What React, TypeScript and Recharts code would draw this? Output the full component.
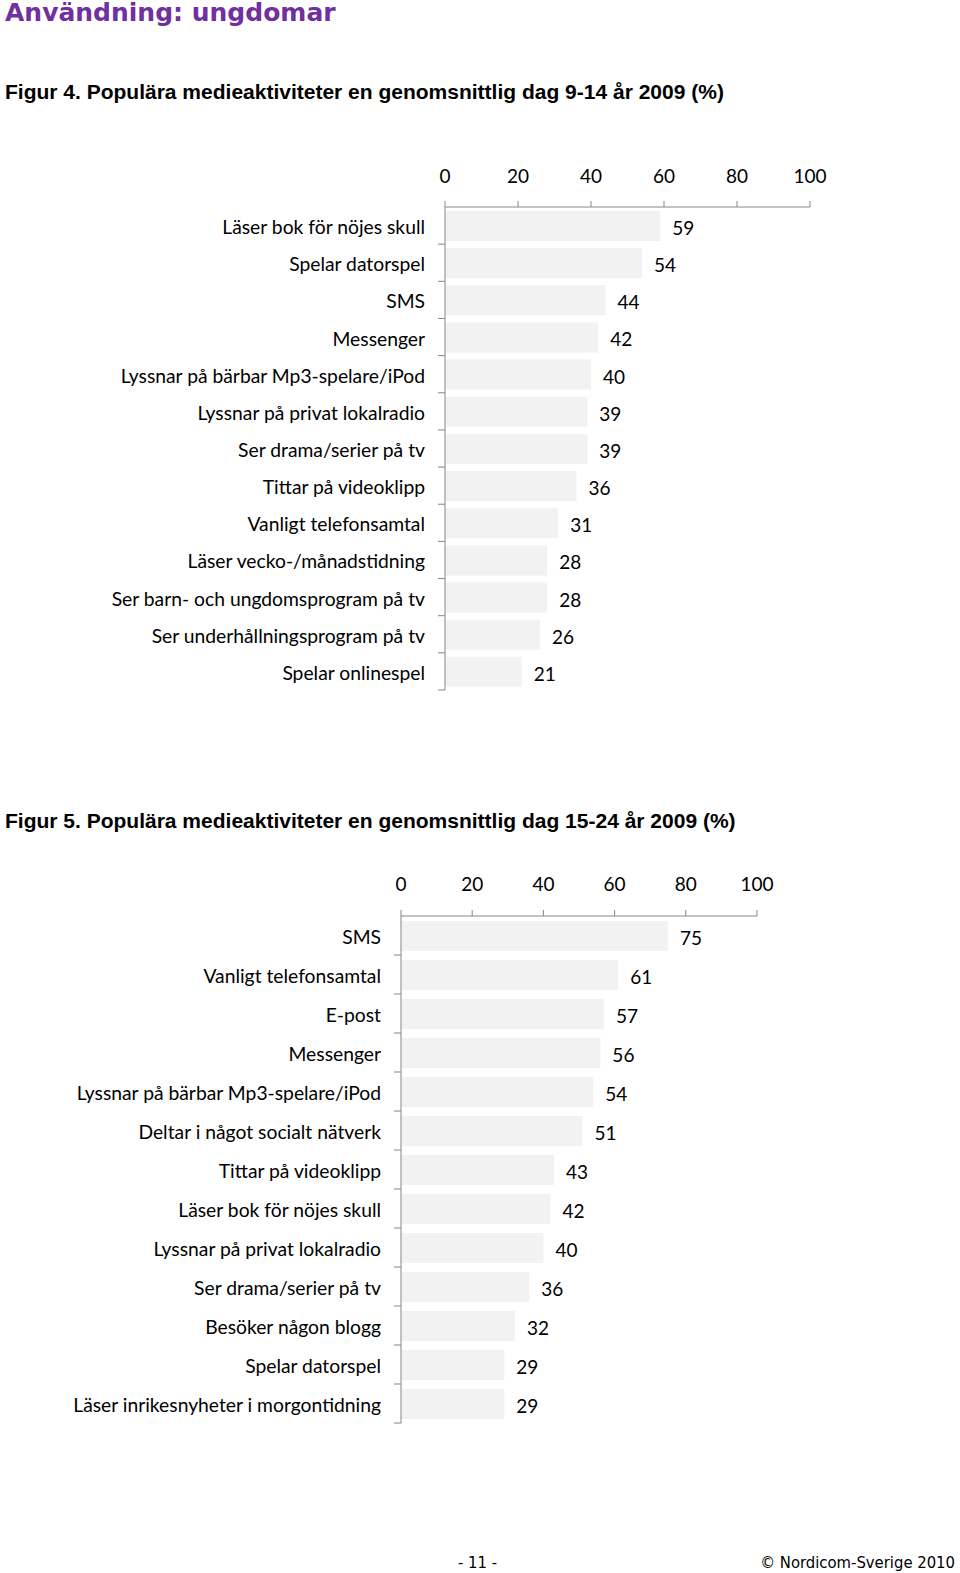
import React from "react";
import { BarChart, Bar, XAxis, YAxis, LabelList } from "recharts";

const fig4Categories = [
  "Läser bok för nöjes skull",
  "Spelar datorspel",
  "SMS",
  "Messenger",
  "Lyssnar på bärbar Mp3-spelare/iPod",
  "Lyssnar på privat lokalradio",
  "Ser drama/serier på tv",
  "Tittar på videoklipp",
  "Vanligt telefonsamtal",
  "Läser vecko-/månadstidning",
  "Ser barn- och ungdomsprogram på tv",
  "Ser underhållningsprogram på tv",
  "Spelar onlinespel",
];
const fig4Values = [59, 54, 44, 42, 40, 39, 39, 36, 31, 28, 28, 26, 21];

const fig5Categories = [
  "SMS",
  "Vanligt telefonsamtal",
  "E-post",
  "Messenger",
  "Lyssnar på bärbar Mp3-spelare/iPod",
  "Deltar i något socialt nätverk",
  "Tittar på videoklipp",
  "Läser bok för nöjes skull",
  "Lyssnar på privat lokalradio",
  "Ser drama/serier på tv",
  "Besöker någon blogg",
  "Spelar datorspel",
  "Läser inrikesnyheter i morgontidning",
];
const fig5Values = [75, 61, 57, 56, 54, 51, 43, 42, 40, 36, 32, 29, 29];

const xTicks = [0, 20, 40, 60, 80, 100];

const data4 = fig4Categories.map((name, i) => ({ name, value: fig4Values[i] }));
const data5 = fig5Categories.map((name, i) => ({ name, value: fig5Values[i] }));

const FONT = "Lato, 'Open Sans', sans-serif";
const AXIS = "#868686";

function makeYTick(band: number) {
  return (props: any) => {
    const { x, y, payload } = props;
    return (
      <g>
        <text
          x={x - 20}
          y={y + 8.5}
          textAnchor="end"
          fontFamily={FONT}
          fontSize={19.3}
          fill="#000"
        >
          {payload.value}
        </text>
        <line x1={x - 7} x2={x} y1={y + band / 2} y2={y + band / 2} stroke={AXIS} strokeWidth={1} />
      </g>
    );
  };
}

const valueLabel = (props: any) => {
  const { x, y, width, height, value } = props;
  return (
    <text
      x={x + width + 12}
      y={y + height / 2 + 9}
      textAnchor="start"
      fontFamily={FONT}
      fontSize={19}
      fill="#000"
    >
      {value}
    </text>
  );
};

type ChartProps = {
  data: any[];
  width: number;
  height: number;
  margin: any;
  yWidth: number;
  tickMargin: number;
  band: number;
};

function Chart({ data, width, height, margin, yWidth, tickMargin, band }: ChartProps) {
  return (
    <BarChart width={width} height={height} data={data} layout="vertical" margin={margin} barSize={30}>
      <XAxis
        type="number"
        orientation="top"
        domain={[0, 100]}
        ticks={xTicks}
        height={30}
        interval={0}
        axisLine={{ stroke: AXIS }}
        tickLine={{ stroke: AXIS }}
        tickSize={6}
        tickMargin={tickMargin}
        tick={{ fontSize: 19, fill: "#000", fontFamily: FONT }}
      />
      <YAxis
        type="category"
        dataKey="name"
        width={yWidth}
        interval={0}
        axisLine={{ stroke: AXIS }}
        tickLine={false}
        tickSize={0}
        tickMargin={0}
        tick={makeYTick(band)}
      />
      <Bar dataKey="value" fill="#f2f2f2" isAnimationActive={false}>
        <LabelList dataKey="value" content={valueLabel} />
      </Bar>
    </BarChart>
  );
}

const figTitle: React.CSSProperties = {
  position: "absolute",
  left: 5,
  fontFamily: "'Liberation Sans', Arial, sans-serif",
  fontWeight: "bold",
  fontSize: 21,
  color: "#000",
  whiteSpace: "nowrap",
};

const footer: React.CSSProperties = {
  position: "absolute",
  top: 1553,
  fontFamily: "'DejaVu Sans Condensed', 'DejaVu Sans', sans-serif",
  fontSize: 16.5,
  color: "#000",
  whiteSpace: "nowrap",
};

export default function App() {
  return (
    <div
      style={{
        position: "absolute",
        left: 0,
        top: 0,
        width: 960,
        height: 1573,
        background: "#fff",
        overflow: "hidden",
      }}
    >
      <div
        style={{
          position: "absolute",
          left: 5,
          top: 0,
          fontFamily: "'DejaVu Sans', Verdana, sans-serif",
          fontWeight: "bold",
          fontSize: 25,
          lineHeight: "25px",
          color: "#7030a0",
          whiteSpace: "nowrap",
        }}
      >
        Användning: ungdomar
      </div>
      <div style={{ ...figTitle, top: 80 }}>
        Figur 4. Populära medieaktiviteter en genomsnittlig dag 9-14 år 2009 (%)
      </div>
      <div style={{ position: "absolute", left: 0, top: 150 }}>
        <Chart
          data={data4}
          width={960}
          height={560}
          margin={{ top: 27, right: 150, bottom: 20, left: 0 }}
          yWidth={445}
          tickMargin={18}
          band={483 / 13}
        />
      </div>
      <div style={{ ...figTitle, top: 809 }}>
        Figur 5. Populära medieaktiviteter en genomsnittlig dag 15-24 år 2009 (%)
      </div>
      <div style={{ position: "absolute", left: 0, top: 860 }}>
        <Chart
          data={data5}
          width={960}
          height={600}
          margin={{ top: 26, right: 203, bottom: 37, left: 0 }}
          yWidth={401}
          tickMargin={19}
          band={507 / 13}
        />
      </div>
      <div style={{ ...footer, left: 458 }}>- 11 -</div>
      <div style={{ ...footer, right: 5 }}>© Nordicom-Sverige 2010</div>
    </div>
  );
}
